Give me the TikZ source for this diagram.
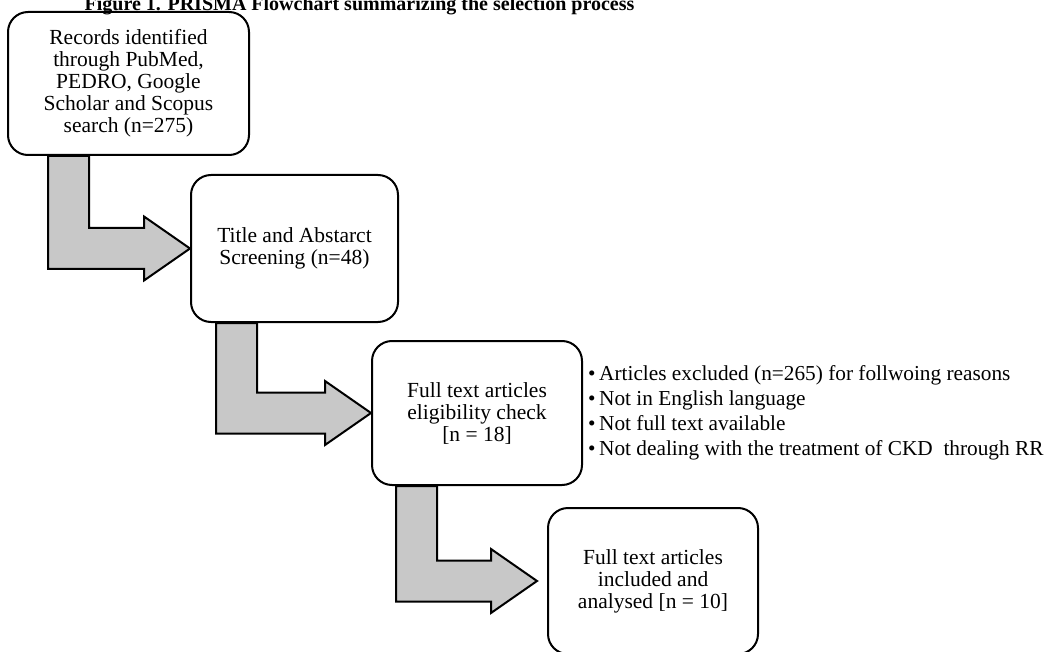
\documentclass[tikz,border=0pt]{standalone}
\usepackage{fontspec}
\setmainfont{Liberation Serif}
\usepackage{xcolor}
\usepackage{tikz}
\usetikzlibrary{positioning,calc,backgrounds}
\definecolor{arrowgray}{RGB}{200,200,200}
\newcommand{\boxfont}{\fontsize{21.5pt}{22pt}\selectfont}
\newcommand{\listfont}{\fontsize{21.3pt}{25pt}\selectfont}
\newcommand{\titlefont}{\fontsize{20pt}{24pt}\selectfont\bfseries}
\newcommand{\bentarrow}[4]{%
  \draw[blockarrow] let \p1=(#1.south west), \p2=(#2.west) in
    (\x1+#3,\y1) -- (\x1+#3+41pt,\y1) -- (\x1+#3+41pt,\y2+20.5pt)
    -- (\x2-#4-46pt,\y2+20.5pt) -- (\x2-#4-46pt,\y2+32pt) -- (\x2-#4,\y2)
    -- (\x2-#4-46pt,\y2-32pt) -- (\x2-#4-46pt,\y2-20.5pt) -- (\x1+#3,\y2-20.5pt) -- cycle;}

\begin{document}
\begin{tikzpicture}[x=1pt, y=-1pt,
    box/.style={draw, line width=2pt, rounded corners=20pt, align=center, font=\boxfont, inner sep=0pt},
    blockarrow/.style={fill=arrowgray, draw=black, line width=2pt, line join=miter},
    reasons/.style={align=left, font=\listfont, inner sep=0pt}]
  \useasboundingbox (0,0) rectangle (1049,652);
  \node[font=\titlefont, anchor=base] (title) at (359.5,11) {Figure 1. PRISMA Flowchart summarizing the selection process};
  \node[box, minimum width=241pt, minimum height=143pt] (records) at (128.5,83.5)
    {Records identified\\through PubMed,\\PEDRO, Google\\Scholar and Scopus\\search (n=275)};
  \node[box, minimum width=207pt, minimum height=147pt] (screening) at (294.5,248.5)
    {Title and Abstarct\\Screening (n=48)};
  \node[box, minimum width=210pt, minimum height=144pt] (eligibility) at (477,413)
    {Full text articles\\eligibility check\\{[n = 18]}};
  \node[box, minimum width=210pt, minimum height=146pt] (included) at (653,581)
    {Full text articles\\included and\\analysed [n = 10]};
  \node[reasons, right=5pt of eligibility] (excluded)
    {\textbullet\,Articles excluded (n=265) for follwoing reasons\\
     \textbullet\,Not in English language\\
     \textbullet\,Not full text available\\
     \textbullet\,Not dealing with the treatment of CKD~ through RR};
  \begin{scope}[on background layer]
    \bentarrow{records}{screening}{41pt}{0pt}
    \bentarrow{screening}{eligibility}{26pt}{0pt}
    \bentarrow{eligibility}{included}{25pt}{10pt}
  \end{scope}
\end{tikzpicture}
\end{document}
